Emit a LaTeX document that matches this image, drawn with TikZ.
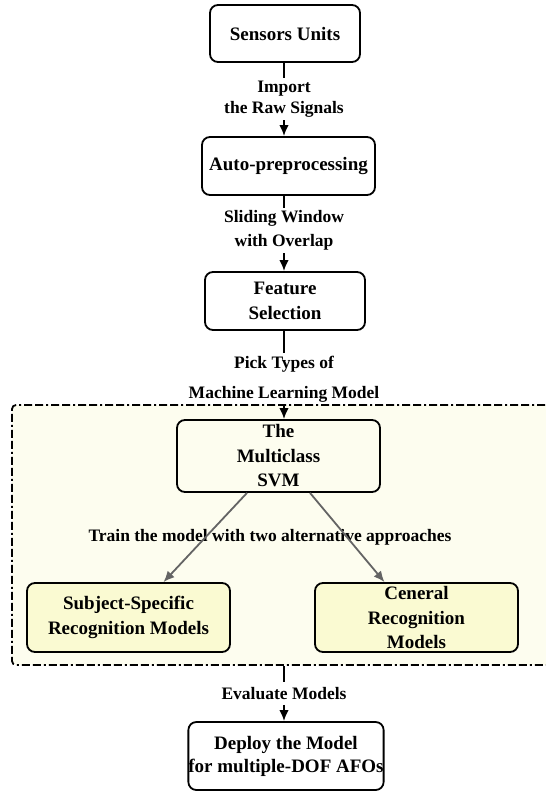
\documentclass[tikz,border=0pt]{standalone}
\usepackage{fontspec}
\setmainfont{Liberation Serif}
\usepackage{tikz}
\usetikzlibrary{arrows.meta}
\usetikzlibrary{positioning}
\tikzset{>={Latex[length=11pt,width=9.5pt]}}
\definecolor{panelfill}{RGB}{253, 253, 239}
\definecolor{modelfill}{RGB}{250, 250, 210}
\definecolor{trainarrow}{RGB}{100, 100, 100}
\tikzset{
	stagebox/.style={draw, line width=1.8pt, rounded corners=8pt, align=center, inner sep=0pt,
		font=\fontsize{19}{24.5}\selectfont\bfseries},
	modelbox/.style={stagebox, fill=modelfill, minimum width=203pt, minimum height=69pt},
	steplabel/.style={align=center, inner sep=3pt, font=\fontsize{17.5}{21}\selectfont\bfseries},
	panelbox/.style={draw, line width=1.8pt, dash pattern=on 8pt off 3pt on 8pt off 3pt on 2pt off 3pt,
		fill=panelfill, rounded corners=4pt, inner sep=0pt},
	flow/.style={line width=1.8pt},
	trainflow/.style={line width=1.8pt, color=trainarrow}
}

\begin{document}
\begin{tikzpicture}[x=1pt,y=-1pt]
	\useasboundingbox (0,0) rectangle (546,798);
	\clip (0,0) rectangle (546,798);
	% dashed area round the learning stage
	\node[panelbox, minimum width=548pt, minimum height=260pt] (panel) at (286,535) {};

	\node[stagebox, minimum width=150pt, minimum height=57pt] (sensors) at (285,33.5) {Sensors Units};
	\node[stagebox, minimum width=173pt, minimum height=58pt] (auto) at (288.5,166) {Auto-preprocessing};
	\node[stagebox, minimum width=160pt, minimum height=58pt] (feature) at (285,301) {Feature\\Selection};
	\node[stagebox, minimum width=203pt, minimum height=72pt] (svm) at (278.5,456) {The\\Multiclass\\SVM};
	\node[modelbox] (subject) at (128.5,617.5) {Subject-Specific\\Recognition Models};
	\node[modelbox] (general) at (416.5,617.5) {Ceneral\\Recognition\\Models};
	\node[stagebox, minimum width=188pt, minimum height=68pt, font=\fontsize{19}{23}\selectfont\bfseries] (deploy) at (286,756) {Deploy the Model\\for multiple-DOF AFOs};

	% labels on the connectors
	\node[steplabel] (import) at (284,99) {Import\\the Raw Signals};
	\node[steplabel, font=\fontsize{17.5}{23.5}\selectfont\bfseries] (window) at (284,230.5) {Sliding Window\\with Overlap};
	\node[steplabel, font=\fontsize{17.5}{30}\selectfont\bfseries] (pick) at (284,379) {Pick Types of\\Machine Learning Model};
	\node[steplabel] (train) at (270,537.5) {Train the model with two alternative approaches};
	\node[steplabel, inner sep=5pt] (evaluate) at (284,693.5) {Evaluate Models};

	\draw[flow] (sensors.south -| import) -- (import.north);
	\draw[flow,->] (import.south) -- (auto.north -| import);
	\draw[flow] (auto.south -| window) -- (window.north);
	\draw[flow,->] (window.south) -- (feature.north -| window);
	\draw[flow] (feature.south -| pick) -- (pick.north);
	\draw[flow,->] (pick.south) -- (svm.north -| pick);
	\draw[trainflow,->] ([xshift=-31.5pt]svm.south) -- ([xshift=35pt]subject.north);
	\draw[trainflow,->] ([xshift=31.5pt]svm.south) -- ([xshift=-32pt]general.north);
	\draw[flow] (panel.south -| evaluate) -- (evaluate.north);
	\draw[flow,->] (evaluate.south) -- (deploy.north -| evaluate);
\end{tikzpicture}
\end{document}
